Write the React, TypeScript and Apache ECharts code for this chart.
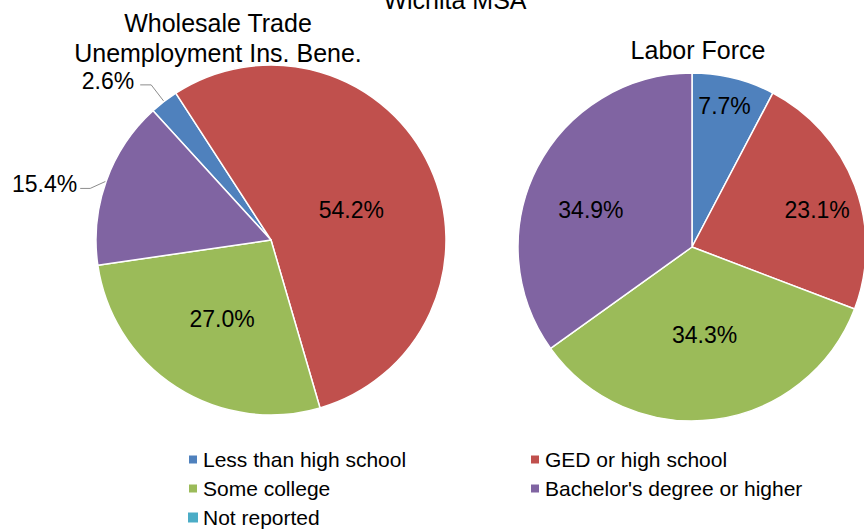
import React, { useEffect, useRef } from "react";
import * as echarts from "echarts";

const categories = [
  "Less than high school",
  "GED or high school",
  "Some college",
  "Bachelor's degree or higher",
  "Not reported",
];
const colors = ["#4F81BD", "#C0504D", "#9BBB59", "#8064A2", "#4BACC6"];
const wholesaleValues = [2.6, 54.2, 27.0, 15.4, 0];
const laborForceValues = [7.7, 23.1, 34.3, 34.9, 0];
const mainTitle = "Wichita MSA";
const leftTitle = "Wholesale Trade\nUnemployment Ins. Bene.";
const rightTitle = "Labor Force";

const FONT = "'Liberation Sans', Arial, sans-serif";

// label nudges (style only): [dx, dy, lineEndDy]
const leftLabelNudge = [
  [-3, -4, 0],
  [-2, 8, 0],
  [0, 3, 0],
  [0, 9, 13],
  [0, 0, 0],
];
const rightLabelNudge = [
  [11, -54],
  [41, -5],
  [1, -1],
  [-21, 4],
  [0, 0],
];

export default function App() {
  const ref = useRef<HTMLDivElement>(null);
  useEffect(() => {
    if (!ref.current) return;
    const chart = echarts.init(ref.current, null, { renderer: "svg" });
    const fmt = (p: any) => `${Number(p.value).toFixed(1)}%`;
    const leftData = categories.map((name, i) => {
      const item: any = {
        name,
        value: wholesaleValues[i],
        itemStyle: { color: colors[i] },
      };
      if (i === 0) {
        item.label = { position: "outside", distanceToLabelLine: 3 };
        item.labelLine = { show: true, length: 21, length2: 11 };
      } else if (i === 3) {
        item.label = { position: "outside", distanceToLabelLine: 3 };
        item.labelLine = { show: true, length: 17, length2: 10 };
      } else if (i === 4) {
        item.label = { show: false };
        item.itemStyle = { color: colors[i], borderWidth: 0 };
      }
      return item;
    });
    const rightData = categories.map((name, i) => {
      const item: any = {
        name,
        value: laborForceValues[i],
        itemStyle: { color: colors[i] },
      };
      if (i === 4) {
        item.label = { show: false };
        item.itemStyle = { color: colors[i], borderWidth: 0 };
      }
      return item;
    });
    const legendCommon = {
      orient: "vertical",
      icon: "rect",
      itemWidth: 10,
      itemHeight: 10,
      padding: 0,
      itemGap: 8,
      textStyle: { fontFamily: FONT, fontSize: 21, color: "#000", lineHeight: 21 },
    };
    const titleStyle = { fontFamily: FONT, fontSize: 25, fontWeight: "normal", color: "#000", lineHeight: 30 };
    chart.setOption({
      animation: false,
      backgroundColor: "#fff",
      title: [
        { text: mainTitle, left: 450, top: -20, textAlign: "center", textStyle: titleStyle },
        { text: leftTitle, left: 213, top: 3, textAlign: "center", textStyle: titleStyle },
        { text: rightTitle, left: 693, top: 30, textAlign: "center", textStyle: titleStyle },
      ],
      legend: [
        { ...legendCommon, left: 187, top: 449, data: [categories[0], categories[2], categories[4]] },
        { ...legendCommon, left: 529, top: 449, data: [categories[1], categories[3]] },
      ],
      series: [
        {
          type: "pie",
          center: [271, 240],
          radius: 175,
          startAngle: 132.4,
          clockwise: true,
          itemStyle: { borderColor: "#fff", borderWidth: 1.5 },
          label: {
            show: true,
            position: "inside",
            formatter: fmt,
            fontFamily: FONT,
            fontSize: 23,
            color: "#000",
          },
          labelLine: { show: false, lineStyle: { color: "#8c8c8c", width: 1 } },
          labelLayout: (p: any) => {
            const n = leftLabelNudge[p.dataIndex] || [0, 0, 0];
            const out: any = { dx: n[0], dy: n[1] };
            if (p.labelLinePoints && p.labelLinePoints.length === 3 && n[2]) {
              const pts = p.labelLinePoints.map((q: number[]) => [q[0], q[1]]);
              pts[1][1] += n[2];
              pts[2][1] += n[2];
              out.labelLinePoints = pts;
            }
            return out;
          },
          emphasis: { disabled: true },
          data: leftData,
        },
        {
          type: "pie",
          center: [692, 247],
          radius: 174,
          startAngle: 90,
          clockwise: true,
          itemStyle: { borderColor: "#fff", borderWidth: 1.5 },
          label: {
            show: true,
            position: "inside",
            formatter: fmt,
            fontFamily: FONT,
            fontSize: 23,
            color: "#000",
          },
          labelLine: { show: false },
          labelLayout: (p: any) => {
            const n = rightLabelNudge[p.dataIndex] || [0, 0];
            return { dx: n[0], dy: n[1] };
          },
          emphasis: { disabled: true },
          data: rightData,
        },
      ],
    });
    return () => chart.dispose();
  }, []);
  return <div ref={ref} style={{ width: 864, height: 529, position: "absolute", left: 0, top: 0 }} />;
}
